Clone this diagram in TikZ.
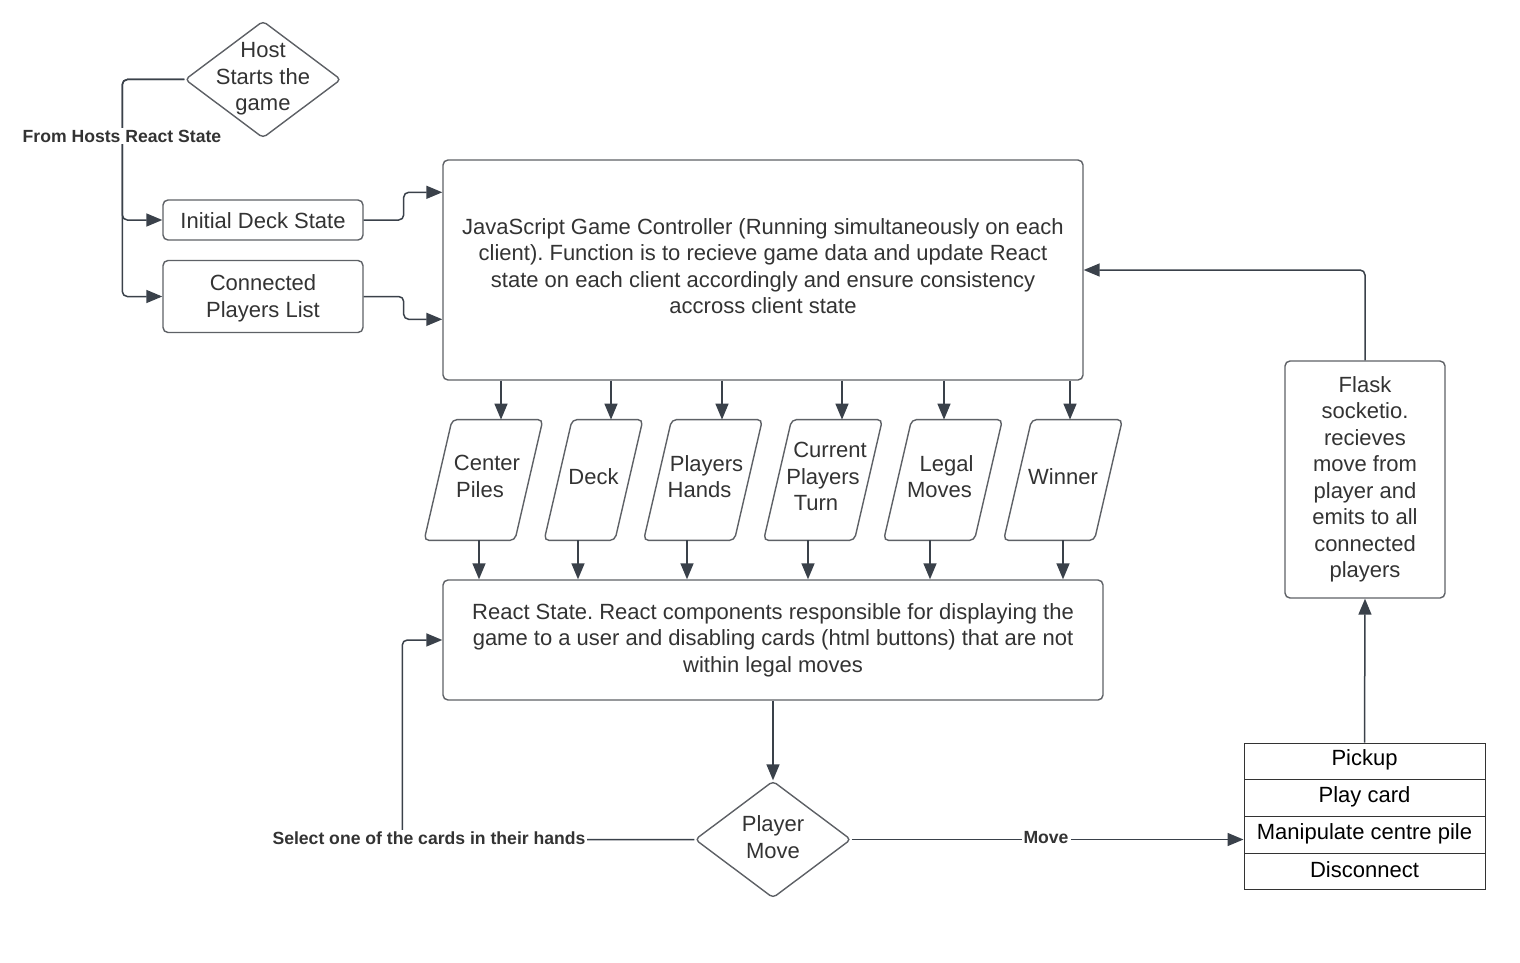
\documentclass[tikz,border=0pt]{standalone}
\usepackage{fontspec}
\setmainfont{Liberation Sans}
\usetikzlibrary{arrows.meta,calc,shapes.geometric}
\definecolor{lc}{HTML}{3A414A}
\definecolor{bc}{HTML}{5E6166}
\definecolor{tc}{HTML}{333333}
\definecolor{rowc}{HTML}{333333}
\frenchspacing
\newcommand\mypara[4]{%
  \node[minimum width=#3, minimum height=60pt, inner sep=0pt] (#1) at (#2,480) {};
  \draw[box] ($(#1.south west)+(-14,0)$) -- ($(#1.north west)+(14,0)$) -- ($(#1.north east)+(14,0)$) -- ($(#1.south east)+(-14,0)$) -- cycle;
  \node[txt] (#1txt) at (#2,476.5) {#4};
}
\begin{document}
\begin{tikzpicture}[x=0.5pt,y=-0.5pt,
  box/.style={draw=bc, line width=0.7pt, rounded corners=2.5pt},
  bnode/.style={box, text=tc, align=center, inner sep=0pt, font=\fontsize{11}{13.25}\selectfont},
  txt/.style={text=tc, align=center, inner sep=0pt, font=\fontsize{11}{13.25}\selectfont},
  dia/.style={diamond, draw=bc, line width=0.7pt, rounded corners=2pt, minimum width=78pt, minimum height=58.5pt, inner sep=0pt},
  arr/.style={draw=lc, line width=0.75pt, rounded corners=2.5pt, -{Triangle[length=8pt,width=6.5pt]}},
  lbl/.style={fill=white, text=tc, inner sep=1pt, font=\bfseries\fontsize{8.8}{10}\selectfont},
  row/.style={draw=rowc, line width=0.5pt, minimum width=120.5pt, minimum height=18.375pt, inner sep=0pt, text=black, font=\fontsize{11}{13.25}\selectfont}
]
\useasboundingbox[fill=white] (0,0) rectangle (1520,963);

% host diamond
\node[dia] (host) at (263,79.5) {};
\node[txt] (hosttxt) at (263,79) {Host\\Starts the\\game};

% left boxes
\node[bnode, minimum width=100pt, minimum height=20pt] (ids) at (263,220) {};
\node[txt] (idstxt) at (263,221) {Initial Deck State};
\node[bnode, minimum width=100pt, minimum height=36pt] (cpl) at (263,296.5) {};
\node[txt] (cpltxt) at (263,298.5) {Connected\\Players List};

% controller
\node[bnode, minimum width=320pt, minimum height=110pt] (js) at (763,270) {};
\node[txt] (jstxt) at (763,266) {JavaScript Game Controller (Running simultaneously on each\\client). Function is to recieve game data and update React\\state on each client accordingly and ensure consistency\\accross client state};

% parallelograms
\mypara{p1}{483.5}{45pt}{\hspace*{3.5pt}Center\\Piles\hspace*{3.5pt}}
\mypara{p2}{593.5}{35pt}{Deck}
\mypara{p3}{703}{45pt}{\hspace*{3.5pt}Players\\Hands\hspace*{3.5pt}}
\mypara{p4}{823}{45pt}{\hspace*{7pt}Current\\Players\\Turn\hspace*{7pt}}
\mypara{p5}{943}{45pt}{\hspace*{3.5pt}Legal\\Moves\hspace*{3.5pt}}
\mypara{p6}{1063}{45pt}{Winner}

% react state
\node[bnode, minimum width=330pt, minimum height=60pt] (rs) at (773,640) {};
\node[txt] (rstxt) at (773,640) {React State. React components responsible for displaying the\\game to a user and disabling cards (html buttons) that are not\\within legal moves};

% player move
\node[dia] (pm) at (773,839.5) {};
\node[txt] (pmtxt) at (773,837) {Player\\Move};

% flask
\node[bnode, minimum width=80pt, minimum height=118.5pt] (flask) at (1365,479.5) {};
\node[txt] (flasktxt) at (1365,479.5) {Flask\\socketio.\\recieves\\move from\\player and\\emits to all\\connected\\players};

% table
\node[row] (r1) at (1364.5,761.4) {};
\node[row] (r2) at (1364.5,798.1) {};
\node[row] (r3) at (1364.5,834.9) {};
\node[row] (r4) at (1364.5,871.6) {};
\node[text=black, font=\fontsize{11}{13.25}\selectfont, inner sep=0pt] (r1t) at (1364.5,759.5) {Pickup};
\node[text=black, font=\fontsize{11}{13.25}\selectfont, inner sep=0pt] (r2t) at (1364.5,796.5) {Play card};
\node[text=black, font=\fontsize{11}{13.25}\selectfont, inner sep=0pt] (r3t) at (1364.5,833.5) {Manipulate centre pile};
\node[text=black, font=\fontsize{11}{13.25}\selectfont, inner sep=0pt] (r4t) at (1364.5,870) {Disconnect};

% connectors from host
\draw[arr] (host.west) -| ([xshift=-20pt]ids.west) -- (ids.west);
\draw[arr] (host.west) -| ([xshift=-20pt]cpl.west) -- (cpl.west);
\node[lbl] (lfrom) at (122,136) {From Hosts React State};

\draw[arr] (ids.east) -- ++(40,0) |- ($(js.north west)+(0,33)$);
\draw[arr] (cpl.east) -- ++(40,0) |- ($(js.north west)+(0,160)$);

% controller to parallelograms to react state
\coordinate (p1t) at ($(p1.north)+(17.5,0)$);
\coordinate (p2t) at ($(p2.north)+(17.5,0)$);
\coordinate (p3t) at ($(p3.north)+(19,0)$);
\coordinate (p4t) at ($(p4.north)+(19,0)$);
\coordinate (p5t) at ($(p5.north)+(1,0)$);
\coordinate (p6t) at ($(p6.north)+(7,0)$);
\coordinate (p1b) at ($(p1.south)+(-4.5,0)$);
\coordinate (p2b) at ($(p2.south)+(-15.5,0)$);
\coordinate (p3b) at ($(p3.south)+(-16,0)$);
\coordinate (p4b) at ($(p4.south)+(-15,0)$);
\coordinate (p5b) at ($(p5.south)+(-13,0)$);
\coordinate (p6b) at ($(p6.south)+(0,0)$);
\foreach \i in {1,...,6}{
  \draw[arr] (js.south -| p\i t) -- (p\i t);
  \draw[arr] (p\i b) -- (p\i b |- rs.north);
}

% react state to player move
\draw[arr] (rs.south) -- (pm.north);
\draw[arr] (pm.west) -| ([xshift=-20pt]rs.west) -- (rs.west);
\node[lbl] (lsel) at (429,838) {Select one of the cards in their hands};

\draw[arr] (pm.east) -- (pm.east -| r3.west);
\node[lbl] (lmove) at (1046,838) {Move};

\draw[arr] (r1.north) -- (flask.south);
\draw[arr] (flask.north) |- (js.east);
\end{tikzpicture}
\end{document}
